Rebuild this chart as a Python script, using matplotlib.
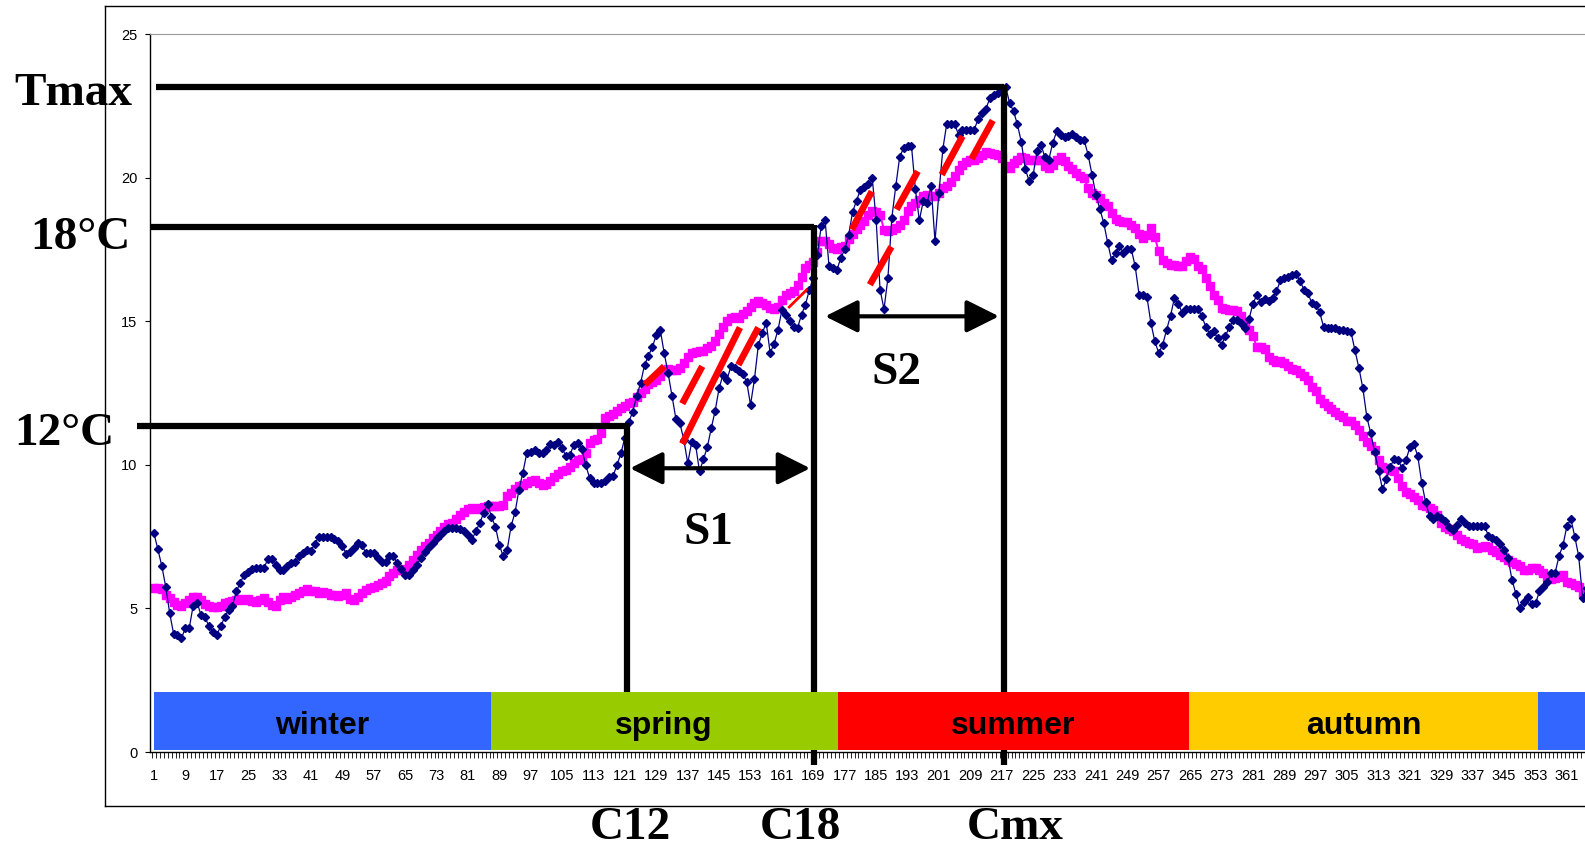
import numpy as np
import matplotlib
matplotlib.use("Agg")
import matplotlib.pyplot as plt
from matplotlib.lines import Line2D

# daily temperature (navy diamonds), day 1..366
daily_temp = [
    7.62, 7.06, 6.48, 5.76, 4.85, 4.12, 4.08, 3.96, 4.31, 4.31,
    5.10, 5.20, 4.77, 4.69, 4.39, 4.19, 4.08, 4.37, 4.69, 4.95,
    5.09, 5.59, 5.90, 6.17, 6.28, 6.36, 6.40, 6.40, 6.40, 6.71,
    6.71, 6.52, 6.32, 6.32, 6.46, 6.57, 6.63, 6.81, 6.92, 7.04,
    7.01, 7.25, 7.50, 7.50, 7.50, 7.48, 7.41, 7.33, 7.18, 6.90,
    6.98, 7.10, 7.29, 7.21, 6.92, 6.92, 6.92, 6.75, 6.60, 6.60,
    6.83, 6.83, 6.57, 6.36, 6.17, 6.17, 6.34, 6.52, 6.75, 6.95,
    7.15, 7.29, 7.44, 7.56, 7.68, 7.79, 7.79, 7.79, 7.76, 7.68,
    7.56, 7.39, 7.68, 7.97, 8.32, 8.64, 8.18, 7.85, 7.21, 6.81,
    7.04, 7.87, 8.34, 9.13, 9.73, 10.41, 10.43, 10.50, 10.41, 10.41,
    10.52, 10.72, 10.70, 10.81, 10.58, 10.29, 10.35, 10.70, 10.76, 10.55,
    10.00, 9.54, 9.38, 9.38, 9.38, 9.42, 9.57, 9.62, 10.00, 10.41,
    10.95, 11.50, 11.85, 12.40, 12.85, 13.48, 13.80, 14.10, 14.53, 14.70,
    13.89, 13.19, 12.38, 11.59, 11.45, 10.87, 10.06, 10.78, 10.70, 9.77,
    10.20, 10.62, 11.28, 11.89, 12.67, 13.14, 12.96, 13.43, 13.37, 13.25,
    13.17, 12.90, 12.09, 12.98, 14.18, 14.59, 14.94, 13.89, 14.22, 14.70,
    15.40, 15.23, 14.99, 14.80, 14.78, 15.23, 15.58, 16.10, 16.50, 17.30,
    18.30, 18.51, 16.91, 16.85, 16.79, 17.20, 17.50, 18.00, 18.80, 19.20,
    19.58, 19.68, 19.79, 19.99, 18.54, 16.10, 15.42, 16.50, 18.60, 19.70,
    20.72, 21.03, 21.11, 21.11, 19.60, 18.51, 19.18, 19.12, 19.72, 17.78,
    19.47, 21.00, 21.88, 21.88, 21.85, 21.50, 21.65, 21.67, 21.67, 21.67,
    22.05, 22.25, 22.40, 22.78, 22.89, 22.93, 23.05, 23.16, 22.60, 22.31,
    21.85, 21.23, 20.30, 19.87, 20.10, 20.92, 21.15, 20.70, 20.63, 21.21,
    21.61, 21.50, 21.42, 21.44, 21.53, 21.42, 21.32, 21.30, 20.80, 20.10,
    19.40, 18.90, 18.42, 17.72, 17.12, 17.37, 17.61, 17.37, 17.51, 17.51,
    16.91, 15.92, 15.92, 15.84, 14.94, 14.30, 13.89, 14.18, 14.70, 15.19,
    15.81, 15.61, 15.28, 15.42, 15.42, 15.42, 15.42, 15.17, 14.80, 14.56,
    14.65, 14.41, 14.18, 14.49, 14.80, 15.03, 15.05, 14.94, 14.76, 15.08,
    15.60, 15.92, 15.66, 15.78, 15.69, 15.81, 16.04, 16.42, 16.50, 16.54,
    16.62, 16.65, 16.39, 16.10, 15.98, 15.63, 15.57, 15.31, 14.80, 14.76,
    14.76, 14.76, 14.70, 14.70, 14.65, 14.61, 13.98, 13.37, 12.67, 11.68,
    11.10, 10.46, 9.80, 9.15, 9.50, 9.94, 10.20, 10.17, 9.88, 10.17,
    10.62, 10.73, 10.29, 9.38, 8.69, 8.20, 8.11, 8.20, 8.14, 8.06,
    7.83, 7.74, 7.91, 8.11, 7.97, 7.87, 7.87, 7.87, 7.87, 7.87,
    7.53, 7.44, 7.39, 7.25, 7.04, 6.75, 5.99, 5.51, 5.01, 5.24,
    5.41, 5.16, 5.18, 5.59, 5.76, 5.93, 6.23, 6.25, 6.83, 7.21,
    7.87, 8.11, 7.50, 6.81, 5.35, 5.70,
]

# smoothed temperature (magenta squares)
smoothed_temp = [
    5.70, 5.70, 5.67, 5.47, 5.35, 5.24, 5.12, 5.09, 5.18, 5.30,
    5.39, 5.38, 5.30, 5.16, 5.09, 5.06, 5.06, 5.09, 5.18, 5.24,
    5.27, 5.30, 5.32, 5.30, 5.34, 5.26, 5.24, 5.30, 5.35, 5.24,
    5.12, 5.09, 5.30, 5.38, 5.32, 5.41, 5.47, 5.55, 5.59, 5.67,
    5.62, 5.59, 5.55, 5.57, 5.55, 5.47, 5.47, 5.44, 5.47, 5.53,
    5.34, 5.30, 5.41, 5.53, 5.64, 5.70, 5.74, 5.82, 5.90, 5.97,
    6.13, 6.25, 6.32, 6.32, 6.36, 6.52, 6.67, 6.86, 7.04, 7.18,
    7.29, 7.44, 7.56, 7.68, 7.83, 7.94, 7.99, 8.11, 8.26, 8.37,
    8.46, 8.49, 8.46, 8.48, 8.52, 8.55, 8.55, 8.57, 8.57, 8.59,
    8.90, 9.01, 9.15, 9.27, 9.30, 9.36, 9.45, 9.48, 9.36, 9.29,
    9.34, 9.45, 9.57, 9.69, 9.77, 9.83, 9.94, 10.08, 10.17, 10.20,
    10.41, 10.75, 10.85, 10.89, 11.10, 11.63, 11.71, 11.78, 11.86, 11.97,
    12.03, 12.15, 12.20, 12.35, 12.50, 12.65, 12.80, 12.90, 12.95, 13.10,
    13.25, 13.35, 13.30, 13.30, 13.38, 13.55, 13.75, 13.89, 13.93, 13.95,
    13.97, 14.05, 14.15, 14.30, 14.55, 14.80, 15.00, 15.12, 15.15, 15.12,
    15.25, 15.35, 15.50, 15.65, 15.70, 15.65, 15.55, 15.45, 15.42, 15.48,
    15.75, 15.90, 15.98, 16.05, 16.25, 16.55, 16.85, 16.95, 17.05, 17.40,
    17.80, 17.80, 17.70, 17.55, 17.50, 17.58, 17.61, 17.85, 18.05, 18.20,
    18.36, 18.50, 18.70, 18.83, 18.79, 18.71, 18.19, 18.13, 18.16, 18.25,
    18.35, 18.54, 18.83, 19.00, 19.12, 19.23, 19.35, 19.41, 19.35, 19.37,
    19.47, 19.64, 19.72, 19.84, 20.05, 20.28, 20.45, 20.55, 20.60, 20.63,
    20.69, 20.80, 20.88, 20.86, 20.82, 20.80, 20.69, 20.40, 20.34, 20.50,
    20.63, 20.72, 20.69, 20.63, 20.63, 20.63, 20.60, 20.42, 20.34, 20.45,
    20.60, 20.72, 20.57, 20.42, 20.30, 20.16, 20.05, 19.99, 19.64, 19.47,
    19.40, 19.30, 19.12, 19.02, 18.77, 18.56, 18.50, 18.46, 18.44, 18.36,
    18.25, 18.05, 17.90, 18.01, 18.25, 17.93, 17.43, 17.14, 17.03, 16.97,
    16.97, 16.93, 16.91, 17.08, 17.24, 17.17, 16.91, 16.82, 16.50, 16.21,
    15.92, 15.73, 15.46, 15.42, 15.40, 15.38, 15.34, 15.19, 14.94, 14.68,
    14.49, 14.10, 14.10, 14.03, 13.77, 13.66, 13.57, 13.61, 13.54, 13.43,
    13.35, 13.29, 13.19, 13.08, 12.94, 12.71, 12.56, 12.29, 12.15, 12.03,
    11.95, 11.85, 11.75, 11.68, 11.51, 11.51, 11.39, 11.22, 10.99, 10.78,
    10.65, 10.52, 10.17, 9.94, 9.88, 9.83, 9.77, 9.54, 9.25, 9.07,
    8.97, 8.87, 8.76, 8.61, 8.55, 8.49, 8.41, 8.26, 7.97, 7.83,
    7.75, 7.68, 7.56, 7.41, 7.33, 7.27, 7.25, 7.10, 7.15, 7.18,
    7.15, 7.04, 6.95, 6.85, 6.78, 6.67, 6.60, 6.55, 6.48, 6.32,
    6.34, 6.40, 6.40, 6.35, 6.23, 6.11, 6.02, 6.05, 6.11, 6.17,
    5.93, 5.88, 5.80, 5.74, 5.51, 5.47,
]

days = np.arange(1, len(daily_temp) + 1)

# season band along the bottom
season_labels = ["winter", "spring", "summer", "autumn", ""]
season_start = [1.0, 86.8, 175.2, 264.8, 353.5]
season_end = [86.8, 175.2, 264.8, 353.5, 372.0]
season_colors = ["#3366FF", "#99CC00", "#FF0000", "#FFCC00", "#3366FF"]

x_tick_days = list(range(1, 366, 8))
y_ticks = [0, 5, 10, 15, 20, 25]

# threshold levels and crossing days drawn as black guide lines
level_12 = 11.36
level_18 = 18.27
level_max = 23.14
day_c12 = 121.4
day_c18 = 169.2
day_cmx = 217.6

# red warming-rate dashes: (day0, temp0, day1, temp1, width)
red_dashes = [
    (126.1, 12.79, 131.0, 13.43, 4.8),
    (135.6, 12.13, 140.7, 13.43, 4.8),
    (135.6, 10.73, 150.3, 14.78, 4.8),
    (149.9, 13.48, 155.0, 14.78, 4.8),
    (162.6, 15.46, 167.5, 16.12, 2.0),
    (178.8, 18.19, 183.9, 19.52, 4.8),
    (183.4, 16.27, 188.9, 17.59, 4.8),
    (190.2, 18.89, 195.6, 20.22, 4.8),
    (201.7, 20.10, 207.0, 21.44, 4.8),
    (209.3, 20.65, 214.7, 21.99, 4.8),
]

W, H = 1585, 847
fig = plt.figure(figsize=(W / 100, H / 100), dpi=100)
ax = fig.add_axes([150 / W, 1 - 752 / H, 1 - 150 / W, (752 - 34) / H])
ax.set_xlim(0, 365.6)
ax.set_ylim(0, 25)

# series
ax.plot(days, smoothed_temp, color="#FF00FF", lw=1.4, marker="s", ms=5.5,
        mec="#FF00FF", mfc="#FF00FF", zorder=2)
ax.plot(days, daily_temp, color="#000080", lw=0.9, marker="D", ms=3.8,
        mec="#000080", mfc="#000080", zorder=3)

for d0, t0, d1, t1, w in red_dashes:
    ax.plot([d0, d1], [t0, t1], color="#FF0000", lw=w, solid_capstyle="butt", zorder=3.5)

# black guide lines
guide = dict(color="black", lw=4.5, solid_capstyle="butt", clip_on=False, zorder=4)
ax.plot([1.5, day_cmx], [level_max, level_max], **guide)
ax.plot([0, day_c18], [level_18, level_18], **guide)
ax.plot([-3.4, day_c12], [level_12, level_12], **guide)
ax.plot([day_c12, day_c12], [level_12 + 0.08, 1.0], **guide)
ax.plot([day_c18, day_c18], [level_18 + 0.08, -0.45], **guide)
ax.plot([day_cmx, day_cmx], [level_max + 0.08, -0.45], **guide)

arrow = dict(arrowstyle="<|-|>,head_length=1.0,head_width=0.5", mutation_scale=20,
             lw=3, color="black", shrinkA=0, shrinkB=0)
ax.annotate("", xy=(168.2, 9.88), xytext=(122.3, 9.88), arrowprops=arrow, zorder=6)
ax.annotate("", xy=(216.3, 15.17), xytext=(172.0, 15.17), arrowprops=arrow, zorder=6)

# season band
widths = [e - s for s, e in zip(season_start, season_end)]
ax.barh(1.085, widths, left=season_start, height=2.01, color=season_colors,
        edgecolor="none", zorder=5)
for s, e, lab in zip(season_start, season_end, season_labels):
    if lab:
        ax.text((s + e) / 2, 0.62, lab, ha="center", va="baseline", fontsize=23,
                fontweight="bold", family="Liberation Sans", zorder=6)

# axes styling
ax.spines["right"].set_visible(False)
ax.spines["top"].set_color("#999999")
ax.spines["left"].set_linewidth(1.0)
ax.spines["bottom"].set_linewidth(1.0)
ax.set_yticks(y_ticks)
ax.set_yticklabels([str(v) for v in y_ticks], family="Liberation Sans", fontsize=10.5)
ax.tick_params(axis="y", direction="out", length=3.6, width=0.8, pad=5.5)
ax.set_xticks(x_tick_days)
ax.set_xticklabels([str(d) for d in x_tick_days], family="Liberation Sans", fontsize=10.5)
ax.tick_params(axis="x", which="major", length=0, pad=12)
ax.set_xticks(np.arange(0.5, 366, 1), minor=True)
ax.tick_params(axis="x", which="minor", direction="out", length=4.3, width=0.6)

# big serif labels
serif = dict(family="Liberation Serif", fontweight="bold", fontsize=34,
             ha="center", va="baseline")
for txt, x, y in [("Tmax", 73, 105), ("18°C", 80, 249), ("12°C", 64, 445),
                  ("S1", 708, 544), ("S2", 896, 384),
                  ("C12", 630, 839), ("C18", 800, 839), ("Cmx", 1015, 839)]:
    fig.text(x / W, 1 - y / H, txt, **serif)

# outer chart border
for xs, ys in [([105, 105], [6, 806]), ([105, W], [6, 6]), ([105, W], [806, 806])]:
    fig.add_artist(Line2D([v / W for v in xs], [1 - v / H for v in ys],
                          transform=fig.transFigure, color="black", lw=1.0))

fig.savefig("out.png", dpi=100)
